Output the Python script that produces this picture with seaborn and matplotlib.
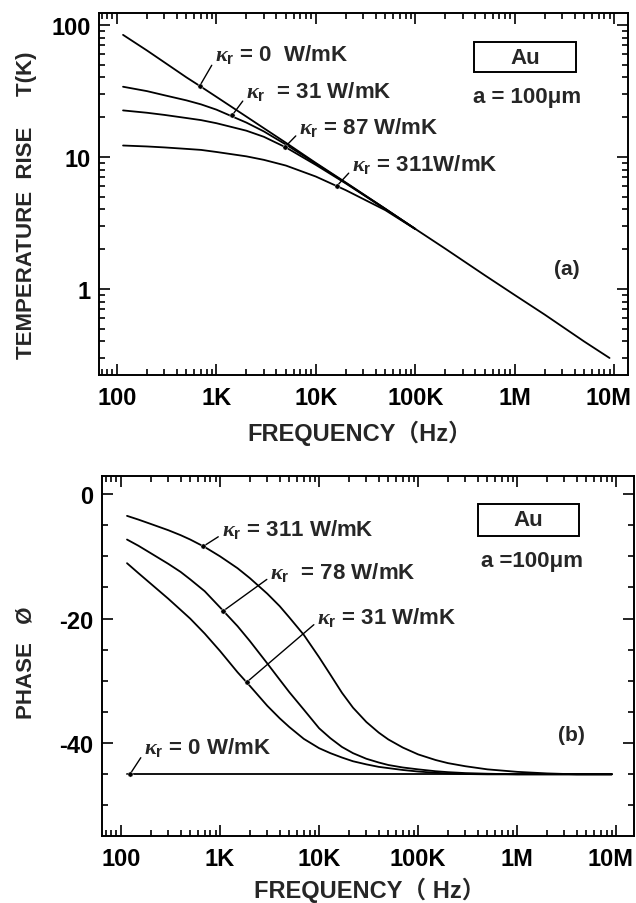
import numpy as np
import pandas as pd
import matplotlib
matplotlib.use("Agg")
import matplotlib.pyplot as plt
import matplotlib.transforms as mtransforms
import seaborn as sns
from matplotlib.ticker import FixedLocator, FixedFormatter, LogLocator, NullFormatter, MultipleLocator
from matplotlib.patches import Rectangle

# ---------------------------------------------------------------------------
# Data
# ---------------------------------------------------------------------------
# (a) temperature rise vs frequency
freq_a = [115, 200, 300, 500, 700, 1e3, 2e3, 3e3, 5e3, 1e4, 2e4, 5e4, 1e5,
          2e5, 5e5, 1e6, 2e6, 5e6, 9e6]
temp_k0 = [84, 64, 52, 40, 34, 28.5, 20.2, 16.5, 12.8, 9.0, 6.4, 4.05, 2.85,
           2.02, 1.27, 0.90, 0.64, 0.40, 0.30]
temp_k31 = [34, 31.5, 29.3, 26.8, 25, 22.8, 18.2, 15.6, 12.4, 8.9, 6.35, 4.04, 2.85]
temp_k87 = [22.5, 21.6, 20.8, 19.7, 19.0, 18.0, 15.8, 14.2, 11.8, 8.7, 6.3, 4.02, 2.85]
temp_k311 = [12.2, 12.0, 11.8, 11.5, 11.3, 10.9, 10.1, 9.5, 8.6, 7.1, 5.6, 3.95, 2.84]

# (b) phase vs frequency
freq_b = [115, 150, 200, 300, 400, 500, 700, 1e3, 1.5e3, 2e3, 3e3, 4e3, 5e3, 7e3,
          1e4, 1.3e4, 1.7e4, 2.2e4, 3e4, 4e4, 5e4, 7e4, 1e5, 1.5e5, 2e5, 3e5,
          5e5, 1e6, 2e6, 4e6, 9e6]
phase_k311 = [-3.5, -4.1, -4.8, -5.8, -6.6, -7.3, -8.5, -10.0, -11.9, -13.5, -16.0,
              -18.0, -19.8, -22.6, -26.2, -29.0, -31.9, -34.3, -36.6, -38.3, -39.4,
              -40.7, -41.8, -42.7, -43.2, -43.7, -44.2, -44.6, -44.85, -45.0, -45.0]
phase_k78 = [-7.3, -8.3, -9.5, -11.2, -12.5, -13.7, -15.6, -18.2, -21.2, -23.6, -27.2,
             -29.8, -31.8, -34.6, -37.6, -39.2, -40.6, -41.6, -42.5, -43.1, -43.5,
             -43.9, -44.2, -44.5, -44.65, -44.8, -44.9, -45.0, -45.0, -45.0, -45.0]
phase_k31 = [-11.1, -12.7, -14.4, -16.8, -18.6, -20.0, -22.4, -25.2, -28.6, -30.8, -34.0,
             -36.0, -37.4, -39.3, -40.8, -41.6, -42.3, -42.9, -43.4, -43.8, -44.0,
             -44.3, -44.55, -44.75, -44.85, -44.95, -45.0, -45.0, -45.0, -45.0, -45.0]
phase_k0 = [-45.0] * len(freq_b)

# labelled points on each curve (frequency, value)
marks_a_f = [680, 1436, 4900, 16300]
marks_a_v = [34.5, 20.6, 11.9, 6.03]
marks_b_f = [676, 1070, 1860, 123]
marks_b_v = [-8.4, -18.8, -30.2, -45.0]

labels_a = [r"$\kappa_\mathbf{r}$ = 0  W/mK", r"$\kappa_\mathbf{r}$  = 31 W/mK",
            r"$\kappa_\mathbf{r}$ = 87 W/mK", r"$\kappa_\mathbf{r}$ = 311W/mK"]
labels_b = [r"$\kappa_\mathbf{r}$ = 311 W/mK", r"$\kappa_\mathbf{r}$  = 78 W/mK",
            r"$\kappa_\mathbf{r}$ = 31 W/mK", r"$\kappa_\mathbf{r}$ = 0 W/mK"]

freq_ticks = [1e2, 1e3, 1e4, 1e5, 1e6, 1e7]
freq_ticklabels = ["100", "1K", "10K", "100K", "1M", "10M"]
temp_ticks = [1, 10, 100]
temp_ticklabels = ["1", "10", "100"]
phase_ticks = [0, -20, -40]
phase_ticklabels = ["0", "-20", "-40"]

# ---------------------------------------------------------------------------
# Long tables for seaborn
# ---------------------------------------------------------------------------
rows = []
for name, vals in [("0", temp_k0), ("31", temp_k31), ("87", temp_k87), ("311", temp_k311)]:
    for f, v in zip(freq_a, vals):
        rows.append({"freq": f, "val": v, "kappa": name})
df_a = pd.DataFrame(rows)

rows = []
for name, vals in [("0", phase_k0), ("31", phase_k31), ("78", phase_k78), ("311", phase_k311)]:
    for f, v in zip(freq_b, vals):
        rows.append({"freq": f, "val": v, "kappa": name})
df_b = pd.DataFrame(rows)

# ---------------------------------------------------------------------------
# Figure
# ---------------------------------------------------------------------------
sns.set_theme(style="ticks")
plt.rcParams["font.family"] = ["Liberation Sans", "Noto Sans CJK JP", "DejaVu Sans"]
plt.rcParams["font.weight"] = "bold"
plt.rcParams["axes.unicode_minus"] = False
plt.rcParams["mathtext.fontset"] = "custom"
plt.rcParams["mathtext.it"] = "Liberation Serif:italic"
plt.rcParams["mathtext.rm"] = "Liberation Sans:bold"
plt.rcParams["mathtext.bf"] = "Liberation Sans:bold"

W, H = 636, 904
fig = plt.figure(figsize=(W / 100, H / 100), dpi=100)


def px_axes(x0, y0, x1, y1):
    return fig.add_axes([x0 / W, 1 - y1 / H, (x1 - x0) / W, (y1 - y0) / H])


ax_a = px_axes(99, 14, 628, 376)
ax_b = px_axes(102, 477, 634, 837)

FS = 16
FS_TICK = 17
for ax in (ax_a, ax_b):
    ax.set_xscale("log")
ax_a.set_yscale("log")

sns.lineplot(data=df_a, x="freq", y="val", hue="kappa", palette=["black"] * 4,
             estimator=None, sort=True, legend=False, lw=1.3, ax=ax_a)
sns.lineplot(data=df_b, x="freq", y="val", hue="kappa", palette=["black"] * 4,
             estimator=None, sort=True, legend=False, lw=1.3, ax=ax_b)
sns.scatterplot(x=marks_a_f, y=marks_a_v, color="black", s=14, ax=ax_a, zorder=5)
sns.scatterplot(x=marks_b_f, y=marks_b_v, color="black", s=14, ax=ax_b, zorder=5)

ax_a.set_xlim(65.9, 1.38e7)
ax_a.set_ylim(0.223, 123)
ax_b.set_xlim(64.3, 1.51e7)
ax_b.set_ylim(-54.9, 2.9)

for ax in (ax_a, ax_b):
    ax.xaxis.set_major_locator(FixedLocator(freq_ticks))
    ax.xaxis.set_major_formatter(FixedFormatter(freq_ticklabels))
    ax.xaxis.set_minor_locator(LogLocator(base=10, subs=np.arange(2, 10), numticks=20))
    ax.xaxis.set_minor_formatter(NullFormatter())
    ax.set_xlabel("")
    ax.set_ylabel("")
    ax.tick_params(which="both", direction="in", top=True, right=True, width=1.2,
                   labelsize=FS_TICK, colors="black")
    ax.tick_params(which="major", length=8)
    ax.tick_params(which="minor", length=4)
    ax.tick_params(axis="x", pad=8)
    ax.tick_params(axis="y", pad=6)
    for sp in ax.spines.values():
        sp.set_linewidth(1.4)
        sp.set_color("black")

ax_a.yaxis.set_major_locator(FixedLocator(temp_ticks))
ax_a.yaxis.set_major_formatter(FixedFormatter(temp_ticklabels))
ax_a.yaxis.set_minor_locator(LogLocator(base=10, subs=np.arange(2, 10), numticks=20))
ax_a.yaxis.set_minor_formatter(NullFormatter())
ax_b.yaxis.set_major_locator(FixedLocator(phase_ticks))
ax_b.yaxis.set_major_formatter(FixedFormatter(phase_ticklabels))
ax_b.yaxis.set_minor_locator(MultipleLocator(5))

# curve labels with leader lines
text_a_pos = [(968, 60.3), (1985, 31.6), (6780, 16.9), (23100, 8.86)]
text_b_pos = [(1035, -5.6), (3200, -12.4), (9550, -19.6), (171, -40.6)]
arrow = dict(arrowstyle="-", color="black", lw=1.0, shrinkA=0, shrinkB=0, relpos=(0, 0.25))
for lab, mf, mv, pos in zip(labels_a, marks_a_f, marks_a_v, text_a_pos):
    ax_a.annotate(lab, xy=(mf, mv), xytext=pos, textcoords="data", ha="left", va="center",
                  fontsize=FS, fontweight="bold", arrowprops=arrow)
for lab, mf, mv, pos in zip(labels_b, marks_b_f, marks_b_v, text_b_pos):
    ax_b.annotate(lab, xy=(mf, mv), xytext=pos, textcoords="data", ha="left", va="center",
                  fontsize=FS, fontweight="bold", arrowprops=arrow)

# material box + radius + panel tags
for ax, box, au_xy, a_xy, a_txt, tag_xy, tag in [
    (ax_a, (0.709, 0.837, 0.193, 0.083), (0.805, 0.878), (0.809, 0.768), "a = 100μm", (0.885, 0.293), "(a)"),
    (ax_b, (0.707, 0.833, 0.190, 0.089), (0.802, 0.878), (0.808, 0.764), "a =100μm", (0.882, 0.283), "(b)"),
]:
    ax.add_patch(Rectangle(box[:2], box[2], box[3], transform=ax.transAxes,
                           fill=False, ec="black", lw=1.4))
    ax.text(*au_xy, "Au", transform=ax.transAxes, ha="center", va="center",
            fontsize=FS, fontweight="bold")
    ax.text(*a_xy, a_txt, transform=ax.transAxes, ha="center", va="center",
            fontsize=FS, fontweight="bold")
    ax.text(*tag_xy, tag, transform=ax.transAxes, ha="center", va="center",
            fontsize=FS - 1, fontweight="bold")

# axis titles
fig.text(360 / W, 1 - 433 / H, "FREQUENCY（Hz）", ha="center", va="center",
         fontsize=FS + 1, fontweight="bold")
fig.text(370 / W, 1 - 890 / H, "FREQUENCY（ Hz）", ha="center", va="center",
         fontsize=FS + 1, fontweight="bold")
fig.text(27 / W, 1 - 205 / H, "TEMPERATURE  RISE     T(K)", ha="center", va="center",
         rotation=90, fontsize=FS, fontweight="bold")
fig.text(26 / W, 1 - 663 / H, "PHASE   Ø", ha="center", va="center",
         rotation=90, fontsize=FS, fontweight="bold")

# keep the last "10M" inside the canvas
fig.canvas.draw()
shift = mtransforms.ScaledTranslation(-4 / 72, 0, fig.dpi_scale_trans)
for ax in (ax_a, ax_b):
    for lab in ax.get_xticklabels() + ax.get_yticklabels():
        lab.set_fontweight("bold")
    last = ax.xaxis.get_major_ticks()[-1].label1
    last.set_transform(last.get_transform() + shift)

fig.savefig("out.png", dpi=100, facecolor="white")
